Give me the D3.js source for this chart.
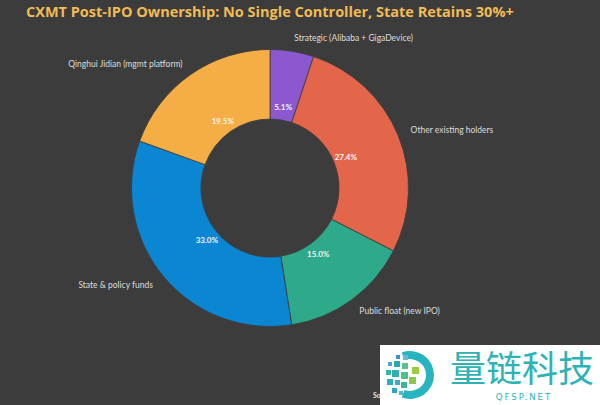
<!DOCTYPE html>
<html>
<head>
<meta charset="utf-8">
<script src="https://cdn.jsdelivr.net/npm/d3@7"></script>
<style>
  html, body { margin: 0; padding: 0; background: #3c3c3c; }
  #chart { width: 600px; height: 405px; }
</style>
</head>
<body>
<div id="chart"></div>
<script>
const width = 600;
const height = 405;

// data, clockwise from 12 o'clock
const categories = ["Strategic (Alibaba + GigaDevice)", "Other existing holders", "Public float (new IPO)", "State & policy funds", "Qinghui Jidian (mgmt platform)"];
const shares = [5.1, 27.4, 15.0, 33.0, 19.5];
const colors = ["#8c58d0", "#e3654a", "#2ea98a", "#0a86d3", "#f5ae46"];

const svg = d3.select("#chart")
  .append("svg")
    .attr("width", width)
    .attr("height", height)
    .style("display", "block");

svg.append("rect")
  .attr("width", width)
  .attr("height", height)
  .attr("fill", "#3c3c3c");

// title
svg.append("text")
  .attr("x", 26)
  .attr("y", 17)
  .attr("font-family", "'Open Sans', sans-serif")
  .attr("font-weight", "bold")
  .attr("font-size", 14.5)
  .attr("fill", "#f1bb55")
  .text("CXMT Post-IPO Ownership: No Single Controller, State Retains 30%+");

const cx = 270, cy = 188;
const outerR = 138.5, innerR = 69;

const pieData = d3.pie().sort(null).value(d => d)(shares);

const arc = d3.arc().innerRadius(innerR).outerRadius(outerR);
const pctArc = d3.arc().innerRadius(82).outerRadius(82);
const labelArc = d3.arc().innerRadius(152).outerRadius(152);

const g = svg.append("g").attr("transform", `translate(${cx},${cy})`);

g.selectAll("path.slice")
  .data(pieData)
  .join("path")
    .attr("class", "slice")
    .attr("d", arc)
    .attr("fill", (d, i) => colors[i])
    .attr("stroke", "#3c3c3c")
    .attr("stroke-width", 0.8);

// percent labels inside the ring
g.selectAll("text.pct")
  .data(pieData)
  .join("text")
    .attr("class", "pct")
    .attr("transform", d => `translate(${pctArc.centroid(d)})`)
    .attr("text-anchor", "middle")
    .attr("dominant-baseline", "central")
    .attr("font-family", "Lato, sans-serif")
    .attr("font-weight", "bold")
    .attr("font-size", 8)
    .attr("fill", "#f4f4f4")
    .text(d => d3.format(".1f")(d.value) + "%");

// category labels outside
g.selectAll("text.cat")
  .data(pieData)
  .join("text")
    .attr("class", "cat")
    .attr("transform", d => `translate(${labelArc.centroid(d)})`)
    .attr("text-anchor", d => labelArc.centroid(d)[0] >= 0 ? "start" : "end")
    .attr("dominant-baseline", "central")
    .attr("font-family", "Lato, sans-serif")
    .attr("font-size", 8.5)
    .attr("fill", "#dcdcdc")
    .text((d, i) => categories[i]);

// source note, mostly hidden under the watermark
svg.append("text")
  .attr("x", 373)
  .attr("y", 398)
  .attr("font-family", "Lato, sans-serif")
  .attr("font-weight", "bold")
  .attr("font-size", 7)
  .attr("fill", "#e8e8e8")
  .text("Source: company prospectus");

// watermark
const wm = svg.append("g");
wm.append("rect")
  .attr("x", 380).attr("y", 345)
  .attr("width", 220).attr("height", 60)
  .attr("fill", "#ffffff");

// logo: ring + squares
wm.append("path")
  .attr("transform", "translate(410,375)")
  .attr("d", d3.arc().innerRadius(16).outerRadius(24).startAngle(-0.35).endAngle(Math.PI + 0.35)())
  .attr("fill", "#27b3bf");

const squares = [
  [396, 355, 4, "#3a8fd0"], [403, 355, 5, "#6fb6dc"],
  [388, 362, 4, "#4fa2d4"], [394, 361, 6, "#2aa7b5"], [402, 363, 6, "#58c08a"], [412, 367, 7, "#9ccc3c"],
  [386, 370, 5, "#3cb2a8"], [392, 370, 7, "#2eb0b0"], [401, 372, 7, "#4fbf8d"], [409, 377, 7, "#8cc84b"],
  [387, 379, 6, "#2eaebb"], [395, 380, 5, "#41a8c9"], [401, 382, 6, "#3bb39f"],
  [392, 388, 5, "#2fa4c8"], [399, 391, 4, "#56b6c9"]
];
wm.selectAll("rect.sq")
  .data(squares)
  .join("rect")
    .attr("class", "sq")
    .attr("x", d => d[0]).attr("y", d => d[1])
    .attr("width", d => d[2]).attr("height", d => d[2])
    .attr("fill", d => d[3]);

wm.append("text")
  .attr("x", 522)
  .attr("y", 382)
  .attr("text-anchor", "middle")
  .attr("font-family", "'Noto Sans CJK SC', sans-serif")
  .attr("font-size", 36)
  .attr("fill", "#2db3b6")
  .text("量链科技");

wm.append("text")
  .attr("x", 524)
  .attr("y", 400)
  .attr("text-anchor", "middle")
  .attr("font-family", "'DejaVu Sans', sans-serif")
  .attr("font-size", 8.5)
  .attr("letter-spacing", 2)
  .attr("fill", "#2db3b6")
  .text("QFSP.NET");
</script>
</body>
</html>
